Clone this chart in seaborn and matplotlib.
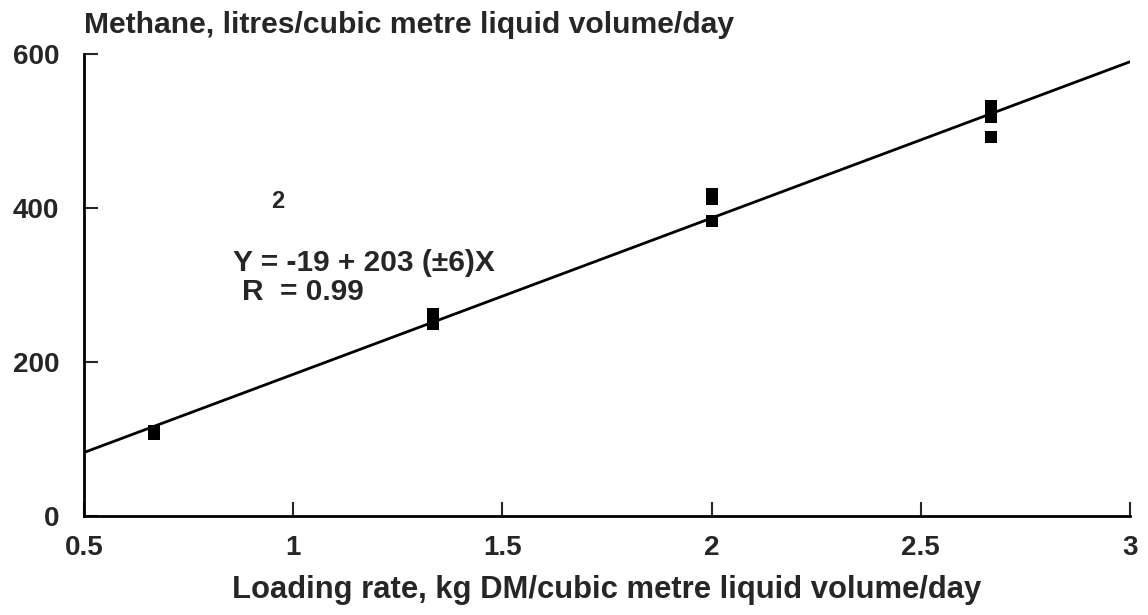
import matplotlib
matplotlib.use("Agg")
import matplotlib.pyplot as plt
import seaborn as sns
import numpy as np
import pandas as pd

# Data
loading_rate = [0.667, 0.667, 1.333, 1.333, 1.333, 2.0, 2.0, 2.0, 2.667, 2.667, 2.667, 2.667]
methane = [106, 110, 250, 256, 262, 383, 412, 418, 492, 518, 525, 532]
intercept = -19
slope = 203
x_range = [0.5, 3.0]
x_ticks = [0.5, 1, 1.5, 2, 2.5, 3]
x_tick_labels = ["0.5", "1", "1.5", "2", "2.5", "3"]
y_ticks = [0, 200, 400, 600]

sns.set_style("ticks")
plt.rcParams['font.family'] = ['Liberation Sans', 'DejaVu Sans']

fig = plt.figure(figsize=(11.48, 6.15), dpi=100)
ax = fig.add_axes([0.0732, 0.161, 0.911, 0.751])

pts = pd.DataFrame({"x": loading_rate, "y": methane})
line = pd.DataFrame({"x": x_range, "y": [intercept + slope * v for v in x_range]})

sns.lineplot(data=line, x="x", y="y", ax=ax, color="black", linewidth=2)
sns.scatterplot(data=pts, x="x", y="y", ax=ax, marker="s", s=85, color="black",
                edgecolor="black", linewidth=0, zorder=3)

ax.set_xlim(0.5, 3)
ax.set_ylim(0, 600)
ax.set_xticks(x_ticks)
ax.set_xticklabels(x_tick_labels)
ax.set_yticks(y_ticks)
ax.tick_params(direction="in", length=10, width=1.5, labelsize=20)
ax.tick_params(axis="y", pad=18)
ax.tick_params(axis="x", pad=14)
for lbl in ax.get_xticklabels() + ax.get_yticklabels():
    lbl.set_fontweight("bold")
for s in ["top", "right"]:
    ax.spines[s].set_visible(False)
for s in ["left", "bottom"]:
    ax.spines[s].set_linewidth(2)
    ax.spines[s].set_color("black")

ax.set_xlabel("Loading rate, kg DM/cubic metre liquid volume/day", fontsize=22.3,
              fontweight="bold", labelpad=10)
ax.set_ylabel("")
ax.text(0.0, 1.062, "Methane, litres/cubic metre liquid volume/day",
        transform=ax.transAxes, ha="left", va="center", fontsize=21.7, fontweight="bold")

ax.text(0.964, 408, "2", fontsize=17, fontweight="bold", ha="center", va="center")
ax.text(0.856, 328, "Y = -19 + 203 (\u00b16)X", fontsize=21.5, fontweight="bold",
        ha="left", va="center")
ax.text(0.878, 291, "R  = 0.99", fontsize=21.5, fontweight="bold",
        ha="left", va="center")

fig.savefig("out.png", dpi=100, facecolor="white")
